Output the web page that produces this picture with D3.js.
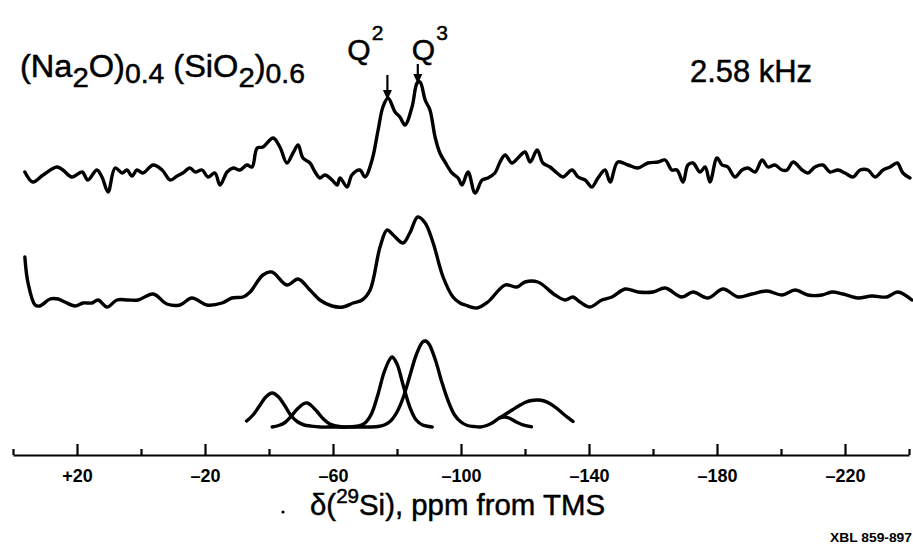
<!DOCTYPE html>
<html>
<head>
<meta charset="utf-8">
<style>
  body { margin: 0; background: #fff; }
  svg { display: block; }
  text { font-family: "Liberation Sans", Arial, Helvetica, sans-serif; fill: #000; }
  .big { stroke: #000; stroke-width: 0.5; }
  .trace { fill: none; stroke: #000; stroke-width: 3.4; stroke-linejoin: round; stroke-linecap: round; }
</style>
</head>
<body>
<svg id="chart" width="913" height="546"></svg>
<script src="https://cdn.jsdelivr.net/npm/d3@7"></script>
<script>

// experimental spectrum, 2.58 kHz spinning (ppm, intensity)
var topPpm = [36.3, 33.8, 30.6, 26.3, 24.4, 21.6, 18.4, 16.6, 13.8, 12.2,
  10.3, 8.1, 5.9, 4.4, 2.8, 1.3, -0.6, -3.8, -6.6, -9.1,
  -11.3, -13.1, -15.3, -16.9, -19.1, -20.9, -23.1, -24.7, -26.9, -28.8,
  -30.9, -33.1, -34.7, -36.3, -38.1, -41.3, -43.4, -45.6, -47.5, -49.1,
  -50.6, -52.8, -54.4, -55.9, -57.5, -59.7, -61.3, -62.2, -64.4, -65.9,
  -68.4, -70, -72.2, -74.1, -75.6, -77.2, -79.4, -80.9, -82.5, -84.7,
  -86.3, -87.2, -88.8, -90.3, -91.9, -93.4, -95, -97.2, -99.1, -100.3,
  -102.2, -104.4, -106.6, -108.4, -110.6, -112.2, -113.8, -115.9, -117.8, -120,
  -121.6, -123.8, -125.6, -127.8, -130, -131.9, -134.7, -136.6, -138.8, -140.9,
  -142.8, -145, -146.6, -149, -152.2, -155.3, -158.4, -161.6, -163.8, -165.9,
  -167.5, -169.4, -170.9, -172.5, -174.7, -176.3, -177.8, -180, -181.6, -183.4,
  -185.6, -187.8, -189.7, -191.9, -194.1, -195.9, -198.1, -200.3, -201.9, -203.8,
  -206.6, -208.4, -210.6, -213.1, -215.3, -217.8, -220, -222.5, -224.7, -227.2,
  -229.4, -231.9, -234.1, -236.3, -238.1, -240.3];
var topInt = [8, -2, 5, 13, 10, 3, 8, 0, 10, 3,
  -12, 12, 7, 10, 4, 10, 7, 15, 10, 0,
  4, 7, 12, 8, 10, 3, 7, -5, 8, 12,
  10, 15, 13, 32, 33, 42, 33, 17, 27, 35,
  22, 17, 8, 2, 5, 0, -5, 2, -7, 5,
  10, 3, 20, 50, 73, 82, 68, 63, 55, 73,
  97, 98, 80, 70, 43, 27, 18, 7, 2, -5,
  8, -13, 0, 2, 7, 18, 25, 17, 22, 28,
  18, 30, 17, 13, 7, 3, 10, 3, 0, -7,
  2, 10, -2, 18, 15, 12, 17, 18, 20, 10,
  10, -2, 15, 17, 8, 13, -2, 22, 15, 13,
  3, 10, 12, 8, 20, 13, 15, 10, 10, 18,
  10, 7, 13, 15, 8, 10, 7, 3, 10, 10,
  3, 10, 13, 17, 7, 2];

// smoothed spectrum
var midPpm = [36.3, 35.3, 33.1, 31.6, 28.4, 25.9, 23.8, 20.6, 18.1, 15.3,
  13.4, 10.6, 7.5, 4.1, 0.9, -3.8, -8.1, -12.2, -15.9, -20.6,
  -25.3, -28.4, -31.9, -34.1, -38.1, -40.9, -45.6, -49.1, -52.8, -55.9,
  -59.7, -63.1, -66.3, -69.1, -71.6, -74.7, -76.9, -78.8, -81.9, -84,
  -86.5, -88.8, -91.3, -94.4, -97.5, -99.7, -101.3, -105, -108.4, -113.8,
  -117.5, -120, -124, -129.4, -132.5, -135, -137.2, -140.3, -144, -147.2,
  -151.3, -155.3, -160, -163.8, -169, -172.5, -177.2, -181.9, -186.6, -190.9,
  -195.6, -200.3, -204.4, -208.4, -212.8, -215.9, -219.4, -224, -228.4, -233.1,
  -236.5, -240.9];
var midInt = [43, 17, -5, -6, 1, 1, -2, -6, -3, -3,
  0, -7, 0, 0, 0, 6, -4, -5, 2, -5,
  -3, 2, 3, 8, 25, 28, 15, 21, 10, 0,
  -6, -7, -3, 0, 10, 53, 70, 65, 57, 67,
  83, 77, 57, 23, 3, -3, -5, -8, -2, 15,
  13, 18, 18, 5, 0, 3, -2, -7, 0, 3,
  11, 8, 8, 12, 3, 8, 2, 11, 3, 6,
  9, 5, 10, 5, 5, 8, 6, 2, 4, 3,
  8, 0];

// fitted components, drawn as three pen strokes
var fitAPpm = [-33, -35, -37, -39, -41, -43, -45, -47, -49, -51,
  -53, -56, -60, -64, -68, -70, -72, -74, -76, -78,
  -78.5, -80, -82, -84, -86, -88, -90, -91];
var fitAInt = [6, 12, 21, 30, 34, 30, 21, 11, 5, 2,
  1, 0, 0, 0, 1, 4, 13, 32, 55, 69,
  70, 63, 41, 20, 7, 2, 0.5, 0];
var fitBPpm = [-41, -43, -45, -47, -49, -51, -52, -53, -55, -57,
  -59, -61, -63, -66, -70, -74, -76, -78, -80, -82,
  -84, -86, -88, -89, -90, -92, -94, -96, -98, -100,
  -102, -104, -106, -108, -110, -112, -113.5, -115, -117, -119,
  -121, -122];
var fitBInt = [0, 1.5, 4.5, 11, 18.5, 23.5, 24, 22, 15.5, 8,
  3, 1, 0, 0, 0, 0.5, 2, 6, 15, 30,
  51, 72, 85, 86, 83, 67, 45, 26, 12, 5,
  1.5, 0.5, 0, 1.5, 4.5, 9, 10, 9, 5.5, 2.5,
  0.8, 0.3];
var fitCPpm = [-112, -114, -116, -118, -120, -122, -124, -126, -128, -130, -132, -134, -135];
var fitCInt = [9, 13, 17, 21, 24.5, 26.5, 27, 26, 23, 18.5, 13, 8, 5.5];

// axis ticks and peak markers
var tickPpm = d3.range(40, -241, -20);
var peakPpm = [-77, -86.5];
var peakNames = ["2", "3"];

var svg = d3.select("#chart");

var x = d3.scaleLinear().domain([40, -240]).range([13, 909]);
var y = d3.scaleLinear().domain([0, 100]).range([0, -100]);

var line = d3.line()
  .x(function(d) { return x(d[0]); })
  .y(function(d) { return y(d[1]); })
  .curve(d3.curveCatmullRom.alpha(0.5));

function zip(a, b) {
  return a.map(function(v, i) { return [v, b[i]]; });
}

var traces = [
  { base: 180, pts: zip(topPpm, topInt) },
  { base: 300, pts: zip(midPpm, midInt) },
  { base: 427, pts: zip(fitAPpm, fitAInt) },
  { base: 427, pts: zip(fitBPpm, fitBInt) },
  { base: 427, pts: zip(fitCPpm, fitCInt) }
];

svg.selectAll("path.trace")
  .data(traces)
  .enter()
  .append("path")
  .attr("class", "trace")
  .attr("transform", function(d) { return "translate(0," + d.base + ")"; })
  .attr("d", function(d) { return line(d.pts); });

// axis with ticks pointing up
var axis = d3.axisBottom(x)
  .tickValues(tickPpm)
  .tickSizeInner(-11)
  .tickSizeOuter(0)
  .tickPadding(14)
  .tickFormat(function(d) {
    if ((d - 20) % 40 !== 0) return "";
    return d > 0 ? "+" + d : "\u2013" + Math.abs(d);
  });

var gAxis = svg.append("g")
  .attr("transform", "translate(0,455)")
  .call(axis);

gAxis.select(".domain").attr("stroke", "#000").attr("stroke-width", 2.2);
gAxis.selectAll(".tick line")
  .attr("stroke", "#000")
  .attr("stroke-width", 2.2)
  .attr("y2", function(d) { return (d - 20) % 40 === 0 ? -11 : -6; });
gAxis.selectAll(".tick text")
  .attr("fill", "#000")
  .style("font-size", "18px")
  .style("font-weight", "bold");

// axis title
var title = svg.append("text")
  .attr("class", "big")
  .attr("x", 310)
  .attr("y", 515)
  .attr("textLength", 295)
  .attr("lengthAdjust", "spacingAndGlyphs")
  .style("font-size", "30px");
title.append("tspan").text("\u03b4(");
title.append("tspan").attr("dy", -12).style("font-size", "21px").text("29");
title.append("tspan").attr("dy", 12).text("Si),  ppm from TMS");

svg.append("circle").attr("cx", 283).attr("cy", 512).attr("r", 1.6).attr("fill", "#000");

// sample label
var lab = svg.append("text")
  .attr("class", "big")
  .attr("x", 20)
  .attr("y", 77)
  .attr("textLength", 285)
  .attr("lengthAdjust", "spacingAndGlyphs")
  .style("font-size", "31px");
lab.append("tspan").text("(Na");
lab.append("tspan").attr("dy", 10).style("font-size", "28px").text("2");
lab.append("tspan").attr("dy", -10).text("O)");
lab.append("tspan").attr("dy", 6).style("font-size", "27px").text("0.4");
lab.append("tspan").attr("dy", -6).text(" (SiO");
lab.append("tspan").attr("dy", 10).style("font-size", "28px").text("2");
lab.append("tspan").attr("dy", -10).text(")");
lab.append("tspan").attr("dy", 6).style("font-size", "27px").text("0.6");

svg.append("text")
  .attr("class", "big")
  .attr("x", 690)
  .attr("y", 82)
  .attr("textLength", 122)
  .attr("lengthAdjust", "spacingAndGlyphs")
  .style("font-size", "31px")
  .text("2.58 kHz");

// Q2 / Q3 labels and arrows
var peaks = svg.selectAll("g.peak")
  .data(peakPpm.map(function(p, i) { return { ppm: p, name: peakNames[i] }; }))
  .enter()
  .append("g")
  .attr("class", "peak")
  .attr("transform", function(d) { return "translate(" + x(d.ppm) + ",0)"; });

var qText = peaks.append("text")
  .attr("class", "big")
  .attr("x", function(d, i) { return i === 0 ? -4 : -6; })
  .attr("y", 60)
  .attr("text-anchor", function(d, i) { return i === 0 ? "end" : "start"; })
  .style("font-size", "30px");
qText.append("tspan").text("Q");
qText.append("tspan").attr("dx", 1).attr("dy", -20).style("font-size", "21px").text(function(d) { return d.name; });

peaks.append("line")
  .attr("y1", function(d, i) { return i === 0 ? 75 : 64; })
  .attr("y2", function(d, i) { return i === 0 ? 93 : 78; })
  .attr("stroke", "#000")
  .attr("stroke-width", 2.2);
peaks.append("path")
  .attr("d", function(d, i) {
    var t = i === 0 ? 100 : 84;
    return "M-4.5," + (t - 10) + "L4.5," + (t - 10) + "L0," + t + "Z";
  })
  .attr("fill", "#000");

svg.append("text")
  .attr("x", 830)
  .attr("y", 542)
  .attr("textLength", 82)
  .attr("lengthAdjust", "spacingAndGlyphs")
  .style("font-size", "13px")
  .style("font-weight", "bold")
  .text("XBL 859-897");

</script>
</body>
</html>
